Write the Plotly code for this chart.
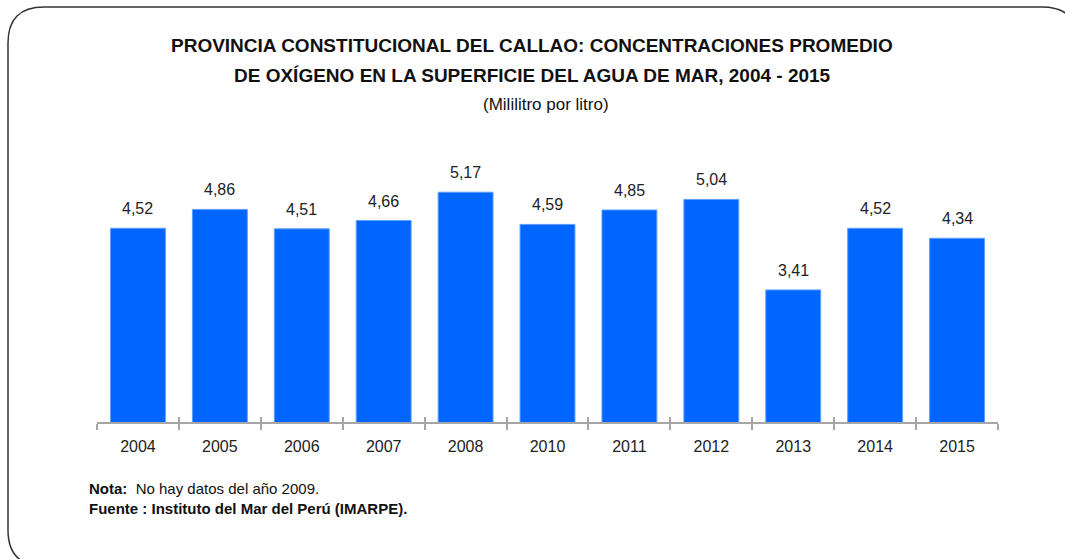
import plotly.graph_objects as go

years = ["2004", "2005", "2006", "2007", "2008", "2010", "2011", "2012", "2013", "2014", "2015"]
oxygen = [4.52, 4.86, 4.51, 4.66, 5.17, 4.59, 4.85, 5.04, 3.41, 4.52, 4.34]
labels = [f"{v:.2f}".replace(".", ",") for v in oxygen]

title_1 = "<b>PROVINCIA CONSTITUCIONAL DEL CALLAO: CONCENTRACIONES PROMEDIO</b>"
title_2 = "<b>DE OXÍGENO EN LA SUPERFICIE DEL AGUA DE MAR, 2004 - 2015</b>"
subtitle = "(Mililitro por litro)"
note = "<b>Nota:</b>  No hay datos del año 2009."
source = "<b>Fuente : Instituto del Mar del Perú (IMARPE).</b>"

W, H = 1065, 559
L, R, T, B = 97, 998, 130, 422
FONT = "Liberation Sans Narrow, Arial Narrow, Liberation Sans, Arial, sans-serif"

def px(x):
    return (x - L) / (R - L)

def py(y):
    return (B - y) / (B - T)

fig = go.Figure()
fig.add_trace(go.Bar(
    x=years, y=oxygen,
    marker=dict(color="#0066FF", line=dict(color="#5c9dff", width=1)),
    hoverinfo="skip",
))
# overlay axis for the upper half of the crossing tick marks
fig.add_trace(go.Scatter(x=years, y=oxygen, xaxis="x2", mode="markers",
                         marker=dict(opacity=0), hoverinfo="skip", showlegend=False))

for i, (v, lab) in enumerate(zip(oxygen, labels)):
    fig.add_annotation(x=i, y=v, text=lab, xref="x", yref="y", showarrow=False,
                       yanchor="bottom", yshift=9,
                       font=dict(family=FONT, size=16, color="#222"))

fig.update_layout(
    width=W, height=H,
    margin=dict(l=L, r=W - R, t=T, b=H - B),
    paper_bgcolor="white", plot_bgcolor="white",
    bargap=0.33, showlegend=False,
    font=dict(family=FONT, color="#222"),
    xaxis=dict(type="category", range=[-0.5, 10.5], showline=True, linecolor="#a6a6a6", linewidth=2,
               ticks="outside", tickson="boundaries", ticklen=6, tickwidth=2, tickcolor="#a6a6a6",
               ticklabelstandoff=9,
               tickfont=dict(family=FONT, size=16, color="#222"), showgrid=False, zeroline=False),
    xaxis2=dict(type="category", overlaying="x", range=[-0.5, 10.5], side="bottom",
                ticks="inside", tickson="boundaries", ticklen=5, tickwidth=2, tickcolor="#a6a6a6",
                showticklabels=False, showline=False, showgrid=False, zeroline=False, anchor="y"),
    yaxis=dict(range=[1.03, 1.03 + (B - T) / 55.5], visible=False, showgrid=False, zeroline=False),
)

ann = [
    (title_1, 532, 46, 19),
    (title_2, 532, 75, 19),
    (subtitle, 546, 104, 17),
]
for txt, x, y, s in ann:
    fig.add_annotation(text=txt, x=px(x), y=py(y), xref="paper", yref="paper",
                       xanchor="center", yanchor="middle", showarrow=False,
                       font=dict(family=FONT, size=s, color="#111"))
for txt, y in [(note, 488), (source, 508)]:
    fig.add_annotation(text=txt, x=px(87), y=py(y), xref="paper", yref="paper",
                       xanchor="left", yanchor="middle", showarrow=False,
                       font=dict(family=FONT, size=15, color="#111"))

# rounded frame
x0, x1, y0, y1, r = 8, 1078, 7, 566, 36
pts = [
    ("M", [(x0 + r, y0)]), ("L", [(x1 - r, y0)]), ("Q", [(x1, y0), (x1, y0 + r)]),
    ("L", [(x1, y1 - r)]), ("Q", [(x1, y1), (x1 - r, y1)]), ("L", [(x0 + r, y1)]),
    ("Q", [(x0, y1), (x0, y1 - r)]), ("L", [(x0, y0 + r)]), ("Q", [(x0, y0), (x0 + r, y0)]),
]
path = " ".join(c + " " + " ".join(f"{px(a):.5f},{py(b):.5f}" for a, b in p) for c, p in pts) + " Z"
fig.add_shape(type="path", path=path, xref="paper", yref="paper",
              line=dict(color="#333", width=1.5), layer="above")

fig.write_html("out.html")
